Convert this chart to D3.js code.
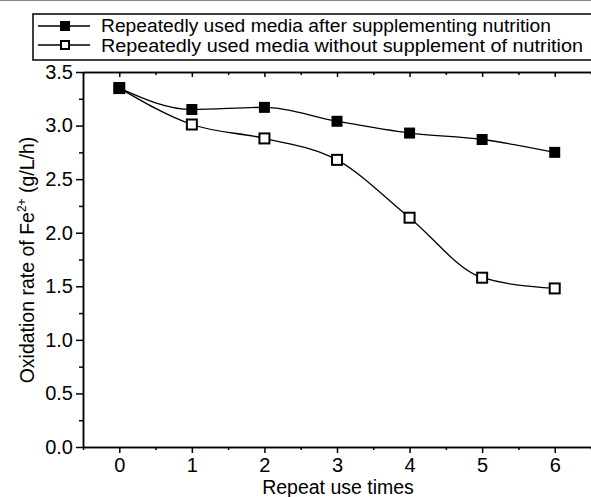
<!DOCTYPE html>
<html>
<head>
<meta charset="utf-8">
<script src="https://cdn.jsdelivr.net/npm/d3@7"></script>
<style>
  body { margin: 0; background: #fff; }
  svg { font-family: "Liberation Sans", Arial, sans-serif; }
</style>
</head>
<body>
<div id="chart"></div>
<script>
// data
const repeatTimes = [0, 1, 2, 3, 4, 5, 6];
const withNutrition = [3.35, 3.15, 3.17, 3.04, 2.93, 2.87, 2.75];
const withoutNutrition = [3.35, 3.01, 2.88, 2.68, 2.14, 1.58, 1.48];
const seriesNames = [
    "Repeatedly used media after supplementing nutrition",
    "Repeatedly used media without supplement of nutrition"
];
const yTicks = [0, 0.5, 1.0, 1.5, 2.0, 2.5, 3.0, 3.5];

const W = 591, H = 497;
const margin = {top: 72, right: 0, bottom: 50, left: 83};
const width = W - margin.left - margin.right;
const height = H - margin.top - margin.bottom;

const svg = d3.select("#chart").append("svg")
    .attr("width", W)
    .attr("height", H);

// faint line at the very top of the scan
svg.append("line")
    .attr("x1", 0).attr("x2", W)
    .attr("y1", 0.5).attr("y2", 0.5)
    .attr("stroke", "#888").attr("stroke-width", 1);

const g = svg.append("g")
    .attr("transform", `translate(${margin.left},${margin.top})`);

const x = d3.scaleLinear().domain([-0.5, 6.5]).range([0, width]);
const y = d3.scaleLinear().domain([0, 3.5]).range([height, 0]);

// axes
const xMinor = d3.range(-0.5, 6.6, 0.5).filter(v => !Number.isInteger(v));
const yMinor = d3.range(0.25, 3.5, 0.5);

g.append("g")
    .attr("class", "axis x-axis")
    .attr("transform", `translate(0,${height})`)
    .call(d3.axisBottom(x).tickValues(repeatTimes).tickSize(6).tickSizeOuter(0).tickPadding(5).tickFormat(d3.format("d")));

g.append("g")
    .attr("transform", `translate(0,${height})`)
    .call(d3.axisBottom(x).tickValues(xMinor).tickSize(3).tickSizeOuter(0).tickFormat(""));

g.append("g")
    .attr("class", "axis y-axis")
    .call(d3.axisLeft(y).tickValues(yTicks).tickSize(7).tickSizeOuter(0).tickPadding(3).tickFormat(d3.format(".1f")));

g.append("g")
    .call(d3.axisLeft(y).tickValues(yMinor).tickSize(4).tickSizeOuter(0).tickFormat(""));

// top axis with inward ticks
g.append("g")
    .call(d3.axisTop(x).tickValues(repeatTimes).tickSize(-5).tickSizeOuter(0).tickFormat(""));
g.append("g")
    .call(d3.axisTop(x).tickValues(xMinor).tickSize(-3).tickSizeOuter(0).tickFormat(""));

g.selectAll(".domain").attr("stroke", "#000").attr("stroke-width", 1.5);
g.selectAll(".tick line").attr("stroke", "#000").attr("stroke-width", 1.5);
g.selectAll(".tick text")
    .style("font-size", "20px")
    .style("font-family", "'Liberation Sans', Arial, sans-serif")
    .attr("fill", "#000");

// axis titles
svg.append("text")
    .attr("x", 338)
    .attr("y", 494)
    .attr("text-anchor", "middle")
    .style("font-size", "19.5px")
    .text("Repeat use times");

const yTitle = svg.append("text")
    .attr("transform", `translate(34,260) rotate(-90)`)
    .attr("text-anchor", "middle")
    .style("font-size", "19.5px");
yTitle.append("tspan").text("Oxidation rate of Fe");
yTitle.append("tspan").attr("dy", -8).style("font-size", "12px").text("2+");
yTitle.append("tspan").attr("dy", 8).text("  (g/L/h)");

// lines
const line = d3.line()
    .x((d, i) => x(repeatTimes[i]))
    .y(d => y(d))
    .curve(d3.curveMonotoneX);

const series = [
    {values: withNutrition, filled: true},
    {values: withoutNutrition, filled: false}
];

series.forEach(s => {
    g.append("path")
        .datum(s.values)
        .attr("fill", "none")
        .attr("stroke", "#000")
        .attr("stroke-width", 1.3)
        .attr("d", line);
});

series.slice().reverse().forEach(s => {
    const size = s.filled ? 11 : 10;
    g.selectAll(null)
        .data(s.values)
        .enter().append("rect")
        .attr("x", (d, i) => x(repeatTimes[i]) - size / 2)
        .attr("y", d => y(d) - size / 2)
        .attr("width", size)
        .attr("height", size)
        .attr("fill", s.filled ? "#000" : "#fff")
        .attr("stroke", "#000")
        .attr("stroke-width", s.filled ? 0 : 2);
});

// legend
const legend = svg.append("g");
legend.append("rect")
    .attr("x", 33).attr("y", 14)
    .attr("width", 570).attr("height", 46)
    .attr("fill", "#fff")
    .attr("stroke", "#000")
    .attr("stroke-width", 1.5);

const legendTextLen = [450, 482];

series.forEach((s, i) => {
    const cy = 26 + i * 19;
    legend.append("line")
        .attr("x1", 38).attr("x2", 90)
        .attr("y1", cy).attr("y2", cy)
        .attr("stroke", "#000").attr("stroke-width", 1.5);
    const size = s.filled ? 10 : 8;
    legend.append("rect")
        .attr("x", 65 - size / 2).attr("y", cy - size / 2)
        .attr("width", size).attr("height", size)
        .attr("fill", s.filled ? "#000" : "#fff")
        .attr("stroke", "#000")
        .attr("stroke-width", s.filled ? 0 : 2);
    legend.append("text")
        .attr("x", 101).attr("y", 32 + i * 20)
        .attr("textLength", legendTextLen[i])
        .attr("lengthAdjust", "spacingAndGlyphs")
        .style("font-size", "17.5px")
        .text(seriesNames[i]);
});
</script>
</body>
</html>
